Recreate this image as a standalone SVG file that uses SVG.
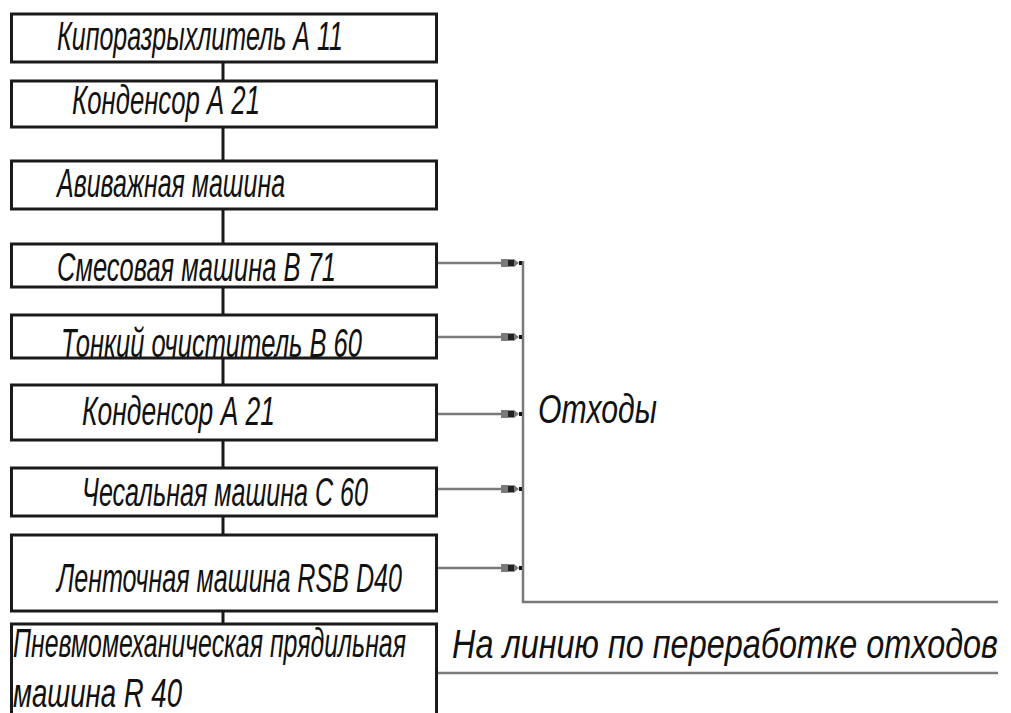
<svg xmlns="http://www.w3.org/2000/svg" width="1011" height="713" viewBox="0 0 1011 713">
<style>
.box{fill:#fff;stroke:#1a1a1a;stroke-width:3}
.t{font-family:"Liberation Sans",Arial,sans-serif;font-style:italic;font-size:40px;fill:#111}
.s{font-family:"Liberation Sans",Arial,sans-serif;font-style:italic;font-size:30px;fill:#111}
.main{stroke:#1a1a1a;stroke-width:3;fill:none}
.g{stroke:#7a7a7a;stroke-width:2.5;fill:none}
</style>
<defs>
<g id="arr">
<rect x="-21" y="-4" width="7" height="8" fill="#7a7a7a"/>
<rect x="-14" y="-3.5" width="6" height="7" fill="#222"/>
<polygon points="-8,-4 -3,0 -8,4" fill="#7a7a7a"/>
<rect x="-3" y="-2" width="3" height="4" fill="#111"/>
</g>
</defs>
<g id="connectors">
<line class="main" x1="223" y1="62" x2="223" y2="625"/>
<path class="g" d="M437,263 H502 M437,337 H502 M437,414 H502 M437,489 H502 M437,568 H502"/>
<path class="g" d="M523,261 V602 H998"/>
<line class="g" x1="437" y1="673" x2="998" y2="673"/>
<use href="#arr" x="522" y="263"/>
<use href="#arr" x="522" y="337"/>
<use href="#arr" x="522" y="414"/>
<use href="#arr" x="522" y="489"/>
<use href="#arr" x="522" y="568"/>
</g>
<g id="n1"><rect class="box" x="11.5" y="14" width="425" height="48"/><text class="t" x="57" y="50" textLength="286" lengthAdjust="spacingAndGlyphs">Кипоразрыхлитель А 11</text></g>
<g id="n2"><rect class="box" x="11.5" y="81" width="425" height="46"/><text class="t" x="72" y="114" textLength="188" lengthAdjust="spacingAndGlyphs">Конденсор А 21</text></g>
<g id="n3"><rect class="box" x="11.5" y="161" width="425" height="48"/><text class="t" x="57" y="197" textLength="228" lengthAdjust="spacingAndGlyphs">Авиважная машина</text></g>
<g id="n4"><rect class="box" x="11.5" y="244" width="425" height="43"/><text class="t" x="57" y="281" textLength="279" lengthAdjust="spacingAndGlyphs">Смесовая машина  В 71</text></g>
<g id="n5"><rect class="box" x="11.5" y="315" width="425" height="43"/><text class="t" x="61" y="357" textLength="301" lengthAdjust="spacingAndGlyphs">Тонкий очиститель В 60</text></g>
<g id="n6"><rect class="box" x="11.5" y="385" width="425" height="55"/><text class="t" x="82" y="425" textLength="193" lengthAdjust="spacingAndGlyphs">Конденсор А 21</text></g>
<g id="n7"><rect class="box" x="11.5" y="468" width="425" height="48"/><text class="t" x="82" y="506" textLength="286" lengthAdjust="spacingAndGlyphs">Чесальная машина С 60</text></g>
<g id="n8"><rect class="box" x="11.5" y="535" width="425" height="76"/><text class="t" x="57" y="592" textLength="345" lengthAdjust="spacingAndGlyphs">Ленточная машина RSB D40</text></g>
<g id="n9"><rect class="box" x="11.5" y="624" width="425" height="100"/>
<text class="s" transform="translate(13,657) scale(1,1.33)" x="0" y="0" textLength="393" lengthAdjust="spacingAndGlyphs">Пневмомеханическая прядильная</text>
<text class="s" transform="translate(13,707) scale(1,1.33)" x="0" y="0" textLength="169" lengthAdjust="spacingAndGlyphs">машина  R 40</text></g>
<g id="labels">
<text class="t" x="538" y="423" textLength="119" lengthAdjust="spacingAndGlyphs">Отходы</text>
<text class="s" transform="translate(452,658) scale(1,1.33)" x="0" y="0" textLength="546" lengthAdjust="spacingAndGlyphs">На линию по переработке отходов</text>
</g>
</svg>
